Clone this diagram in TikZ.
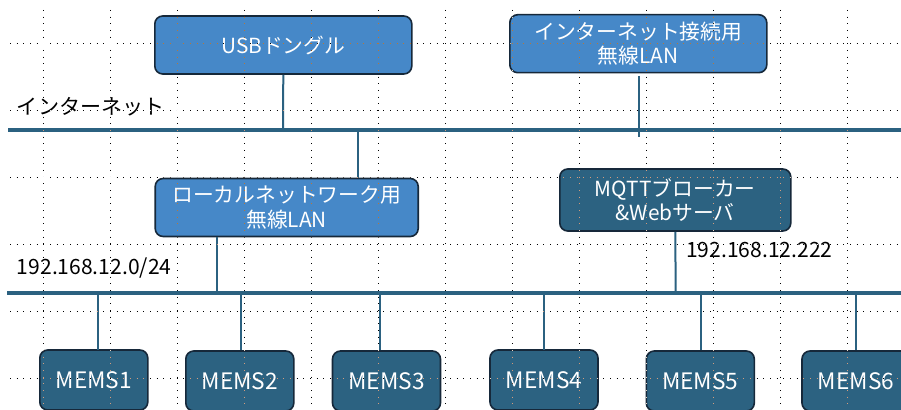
\documentclass[tikz,border=0pt]{standalone}
\usepackage{fontspec}
\setmainfont{Noto Sans CJK JP}
\usetikzlibrary{calc}
\definecolor{lightbox}{HTML}{4688C8}
\definecolor{darkbox}{HTML}{2C6281}
\definecolor{busc}{HTML}{2B6180}
\definecolor{edgec}{HTML}{16283A}
\tikzset{
  box/.style={draw=edgec, line width=1.2pt, rounded corners=6pt, text=white,
    font=\fontsize{15.6}{18.5}\selectfont, align=center, inner sep=0pt},
  lbox/.style={box, fill=lightbox},
  dbox/.style={box, fill=darkbox},
  membox/.style={dbox, minimum width=108*0.75pt, minimum height=60*0.75pt, font=\fontsize{17}{20}\selectfont},
  bus/.style={draw=busc, line width=3.5pt},
  link/.style={draw=busc, line width=1.5pt},
  lbl/.style={anchor=west, inner sep=0pt, font=\fontsize{15.8}{18}\selectfont},
  gridline/.style={draw=white, line width=0.75pt, dash pattern=on 0.75pt off 4.25pt, blend mode=difference}
}
\begin{document}
\begin{tikzpicture}[x=0.75pt,y=-0.75pt]
\useasboundingbox (0,0) rectangle (901,410);
\fill[white] (0,0) rectangle (901,410);
% buses
\coordinate (ib1) at (8,130);
\coordinate (ib2) at (901,130);
\coordinate (lb1) at (7,293);
\coordinate (lb2) at (901,293);
\draw[bus] (ib1) -- (ib2);
\draw[bus] (lb1) -- (lb2);
% boxes
\node[lbox, minimum width=257*0.75pt, minimum height=58*0.75pt] (usb) at (283.3,45) {USBドングル};
\node[lbox, minimum width=257*0.75pt, minimum height=58*0.75pt] (inet) at (638.3,43.7) {インターネット接続用\\無線LAN};
\node[lbox, minimum width=263*0.75pt, minimum height=58*0.75pt] (lwlan) at (286.7,207.5) {ローカルネットワーク用\\無線LAN};
\node[dbox, minimum width=231*0.75pt, minimum height=62*0.75pt] (mqtt) at (675.3,200) {MQTTブローカー\\\&Webサーバ};
\node[membox] (m1) at (93.8,380) {MEMS1};
\node[membox] (m2) at (239.8,381) {MEMS2};
\node[membox] (m3) at (386.5,381) {MEMS3};
\node[membox] (m4) at (544,380) {MEMS4};
\node[membox] (m5) at (700.3,381) {MEMS5};
\node[membox] (m6) at (856,381) {MEMS6};
% labels
\node[lbl] (tinet) at (16.7,106.7) {インターネット};
\node[lbl] (tlan) at (16.7,268) {192.168.12.0/24};
\node[lbl] (tip) at (686,250) {192.168.12.222};
% links
\coordinate (usbb) at (283,130);
\draw[link] (usb.south) -- (usbb);
\coordinate (inett) at (639,76);
\coordinate (inetb) at (639,137);
\draw[link] (inett) -- (inetb);
\coordinate (lwt1) at (357.7,132);
\coordinate (lwt2) at (357.7,178.3);
\draw[link] (lwt1) -- (lwt2);
\coordinate (lwb1) at (216.7,236.7);
\coordinate (lwb2) at (216.7,292);
\draw[link] (lwb1) -- (lwb2);
\coordinate (mqb) at (675.7,293);
\draw[link] (mqtt.south) -- (mqb);
\foreach \n/\x in {m1/97.7,m2/241,m3/380,m4/544,m5/701,m6/856}{
  \coordinate (\n t) at (\x,293);
  \draw[link] (\n t) -- (\x,350) coordinate (\n b);
}
% grid
\foreach \k in {0,...,12}{
  \draw[gridline] (43.5+67*\k,10) -- (43.5+67*\k,410);
}
\foreach \k in {0,...,5}{
  \draw[gridline] (10,43.5+67*\k) -- (901,43.5+67*\k);
}
\end{tikzpicture}
\end{document}
